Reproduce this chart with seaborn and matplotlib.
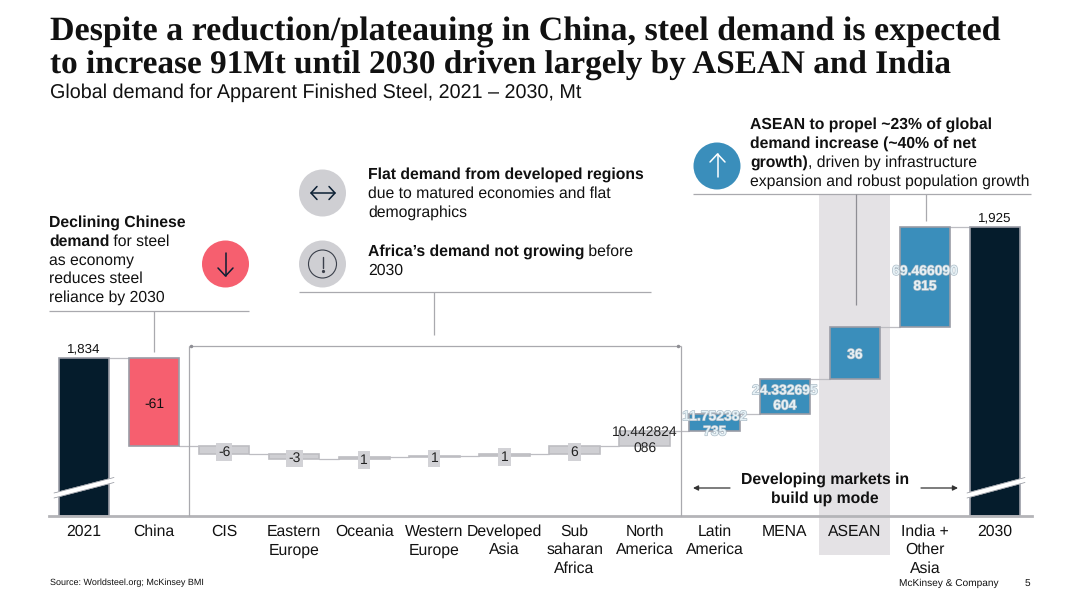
import matplotlib
matplotlib.use("Agg")
import matplotlib.pyplot as plt
import matplotlib.patheffects as pe
from matplotlib.patches import Circle, Rectangle
import numpy as np
import pandas as pd
import seaborn as sns

categories = ["2021", "China", "CIS", "Eastern\nEurope", "Oceania", "Western\nEurope",
              "Developed\nAsia", "Sub\nsaharan\nAfrica", "North\nAmerica", "Latin\nAmerica",
              "MENA", "ASEAN", "India +\nOther\nAsia", "2030"]
start_value = 1834
end_value = 1925
changes = [-61, -6, -3, 1, 1, 1, 6, 10.442824, 11.752382, 24.332695, 36, 69.466090]
change_labels = ["-61", "-6", "-3", "1", "1", "1", "6", "10.442824\n086", "11.752382\n735",
                 "24.332695\n604", "36", "69.466090\n815"]
colors_by_kind = {"total": "#051C2C", "down": "#F65F6F", "flat": "#CFCFD3", "up": "#3A8EBB"}
kinds = ["total", "down", "flat", "flat", "flat", "flat", "flat", "flat", "flat",
         "up", "up", "up", "up", "total"]

SANS = "Liberation Sans"
BODY = 11.3
LABEL = 10.0
INK = "#111111"
LINE = "#A9A9AE"
sns.set_style("white")
plt.rcParams["font.family"] = SANS
plt.rcParams["text.hinting"] = "no_hinting"
plt.rcParams["text.hinting_factor"] = 8

PX = 1.44            # pixels per Mt on the broken axis
BASE_PX, TOP_PX = 516, 100
base_value = start_value - (516 - 358) / PX
W, H = 1080, 608

fig = plt.figure(figsize=(W / 100, H / 100), dpi=100, facecolor="white")

# background overlay (highlight band sits behind the bars)
bg = fig.add_axes([0, 0, 1, 1], zorder=0)
bg.set_xlim(0, W); bg.set_ylim(H, 0); bg.axis("off")
bg.add_patch(Rectangle((819, 194), 71, 361, color="#E4E2E5", lw=0))

# chart
left_px, right_px = 84 - 35.12, 995 + 35.12
ax = fig.add_axes([left_px / W, (H - BASE_PX) / H, (right_px - left_px) / W, (BASE_PX - TOP_PX) / H],
                  zorder=1)
ax.patch.set_alpha(0)

levels = np.cumsum([start_value] + changes)
bottoms = [base_value] + [min(levels[i], levels[i + 1]) for i in range(len(changes))] + [base_value]
heights = [start_value - base_value] + [abs(c) for c in changes] + [end_value - base_value]
df = pd.DataFrame({"category": categories, "height": heights})
sns.barplot(data=df, x="category", y="height", order=categories, bottom=bottoms, width=0.72,
            errorbar=None, ax=ax, linewidth=1.2, edgecolor="#9A9CA6", zorder=3,
            color=colors_by_kind["total"], saturation=1)
for patch, kind in zip(ax.patches, kinds):
    patch.set_facecolor(colors_by_kind[kind])
    if kind == "flat":
        patch.set_edgecolor("#BDBDC2")

ax.set_ylim(base_value, base_value + (BASE_PX - TOP_PX) / PX)
ax.set_xlim(-0.5, len(categories) - 0.5)
ax.set_xlabel(""); ax.set_ylabel(""); ax.set_yticks([])
ax.tick_params(axis="x", length=0, pad=6, labelsize=11.3, labelcolor=INK)
for s in ("top", "left", "right"):
    ax.spines[s].set_visible(False)
ax.spines["bottom"].set_color("#B4B4B8")
ax.spines["bottom"].set_linewidth(2.0)
ax.spines["bottom"].set_zorder(5)
ax.spines["bottom"].set_bounds(-0.5, 13.52)
for lab in ax.get_xticklabels():
    lab.set_linespacing(1.3)
    lab.set_verticalalignment("top")

# connectors
all_levels = [start_value] + list(levels[1:]) + [end_value]
for i, lv in enumerate(all_levels[:-1]):
    ax.plot([i + 0.36, i + 1 - 0.36], [lv, lv], color="#BDBDC2", lw=0.9, zorder=2)

# total labels
ax.annotate(f"{start_value:,}", (0, start_value), xytext=(0, 2.2), textcoords="offset points",
            ha="center", va="bottom", fontsize=9.6, color=INK)
ax.annotate(f"{end_value:,}", (13, end_value), xytext=(0, 2.2), textcoords="offset points",
            ha="center", va="bottom", fontsize=9.6, color=INK)

# change labels
for i, (txt, kind) in enumerate(zip(change_labels, kinds[1:-1]), start=1):
    y = bottoms[i] + heights[i] / 2
    kw = dict(ha="center", va="center", fontsize=LABEL, zorder=6, linespacing=1.2,
              xytext=(0, -1.4), textcoords="offset points", xy=(i, y))
    if kind == "up":
        t = ax.annotate(txt, color="#E6F1F6", fontweight="bold", **kw)
        t.set_path_effects([pe.withStroke(linewidth=0.9, foreground="#A9B9C4")])
    elif kind == "flat":
        box = dict(boxstyle="square,pad=0.16", fc="#D2D2D6", ec="none") if "\n" not in txt else None
        ax.annotate(txt, color="#222222", bbox=box, **kw)
    else:
        ax.annotate(txt, color=INK, **kw)

# foreground overlay in pixel coordinates
ov = fig.add_axes([0, 0, 1, 1], zorder=2)
ov.set_xlim(0, W); ov.set_ylim(H, 0); ov.axis("off"); ov.patch.set_alpha(0)
renderer = fig.canvas.get_renderer()


def rich(x, y, parts, size=BODY):
    for txt, bold in parts:
        t = ov.text(x, y, txt, fontsize=size, va="baseline", ha="left", color=INK,
                    fontweight="bold" if bold else "normal")
        x = t.get_window_extent(renderer).x1


def line(xs, ys, color=LINE, lw=0.9):
    ov.plot(xs, ys, color=color, lw=lw, solid_capstyle="butt")


def chevron(tipx, tipy, dx, dy, color, lw=1.1):
    """dx,dy: back-offset of both barbs, perpendicular spread handled by caller axis."""
    if dx == 0:
        ov.plot([tipx - 7.5, tipx, tipx + 7.5], [tipy + dy, tipy, tipy + dy], color=color, lw=lw)
    else:
        ov.plot([tipx + dx, tipx, tipx + dx], [tipy - 6.5, tipy, tipy + 6.5], color=color, lw=lw)


# title block
TITLE = dict(fontfamily="Liberation Serif", fontweight="bold", color=INK, va="baseline")
ov.text(50, 41, "Despite a reduction/plateauing in China, steel demand is expected", fontsize=24.47, **TITLE)
ov.text(50, 74, "to increase 91Mt until 2030 driven largely by ASEAN and India", fontsize=23.96, **TITLE)
ov.text(50, 98, "Global demand for Apparent Finished Steel, 2021 – 2030, Mt",
        fontsize=14.24, color=INK, va="baseline")

# left note
rich(49, 227, [("Declining Chinese", True)])
rich(49, 246, [("demand", True), (" for steel", False)])
rich(49, 265, [("as economy", False)])
rich(49, 283, [("reduces steel", False)])
rich(49, 302, [("reliance by 2030", False)])
line([49, 249], [311, 311])
line([154, 154], [311, 352])

# middle notes
rich(368, 179, [("Flat demand from developed regions", True)])
rich(368, 198, [("due to matured economies and flat", False)])
rich(368, 217, [("demographics", False)])
rich(368, 256, [("Africa’s demand not growing", True), (" before", False)])
rich(368, 275, [("2030", False)])
line([299, 651], [292, 292])
line([434, 434], [292, 335])

# bracket
line([189, 681], [346, 346])
line([189, 189], [346, 516])
line([681, 681], [346, 516])
ov.plot([191, 678], [346, 346], ls="none", marker=".", ms=3, color="#8E8E94")

# right note
rich(750, 129, [("ASEAN to propel ~23% of global", True)])
rich(750, 148, [("demand increase (~40% of net", True)])
rich(750, 167, [("growth)", True), (", driven by infrastructure", False)])
rich(750, 186, [("expansion and robust population growth", False)])
line([693, 1031], [194, 194])
line([855.5, 855.5], [194, 305], color="#8E8E94")
line([925.5, 925.5], [194, 221])

# icons
for cx, cy, col in [(225.5, 264, "#F65F6F"), (322.5, 193, "#CFCFD3"), (322.5, 264, "#CFCFD3"), (717, 166, "#3A8EBB")]:
    ov.add_patch(Circle((cx, cy), 23.5, color=col, lw=0))
ov.plot([225.5, 225.5], [253, 276], color="#0B1F33", lw=1.1)
chevron(225.5, 276, 0, -8, "#0B1F33")
ov.plot([311, 335], [193, 193], color="#0B1F33", lw=1.1)
chevron(311, 193, 6, 0, "#0B1F33")
chevron(335, 193, -6, 0, "#0B1F33")
ov.add_patch(Circle((322.5, 264), 14, fc="none", ec="#3A3F4A", lw=0.8))
ov.plot([322.5, 322.5], [257, 268], color="#3A3F4A", lw=1.0)
ov.plot([322.5], [271], marker="o", ms=1.3, color="#3A3F4A")
ov.plot([717.5, 717.5], [154, 177], color="white", lw=1.1)
chevron(717.5, 154, 0, 8, "white")

# axis breaks
for x0, x1 in [(54, 114), (967, 1025)]:
    ov.plot([x0, x1], [495.5, 480], color="white", lw=4, solid_capstyle="butt", zorder=5)
    ov.plot([x0, x1], [493, 477.5], color="#8C8F98", lw=0.5, zorder=6)
    ov.plot([x0, x1], [498, 482.5], color="#8C8F98", lw=0.5, zorder=6)

# developing markets
ov.text(825, 484, "Developing markets in", ha="center", va="baseline", fontsize=BODY, fontweight="bold", color=INK)
ov.text(825, 503, "build up mode", ha="center", va="baseline", fontsize=BODY, fontweight="bold", color=INK)
arr = dict(arrowstyle="-|>,head_length=0.3,head_width=0.15", color="#333333", lw=0.9, shrinkA=0, shrinkB=0, mutation_scale=10)
ov.annotate("", xy=(693, 488), xytext=(730, 488), arrowprops=arr)
ov.annotate("", xy=(958, 488), xytext=(921, 488), arrowprops=arr)

# footer
ov.text(50, 585, "Source: Worldsteel.org; McKinsey BMI", fontsize=6.45, color=INK, va="baseline")
ov.text(899, 586, "McKinsey & Company", fontsize=7.25, color=INK, va="baseline")
ov.text(1025, 586, "5", fontsize=7.25, color=INK, va="baseline")

fig.savefig("out.png", dpi=100, facecolor="white")
